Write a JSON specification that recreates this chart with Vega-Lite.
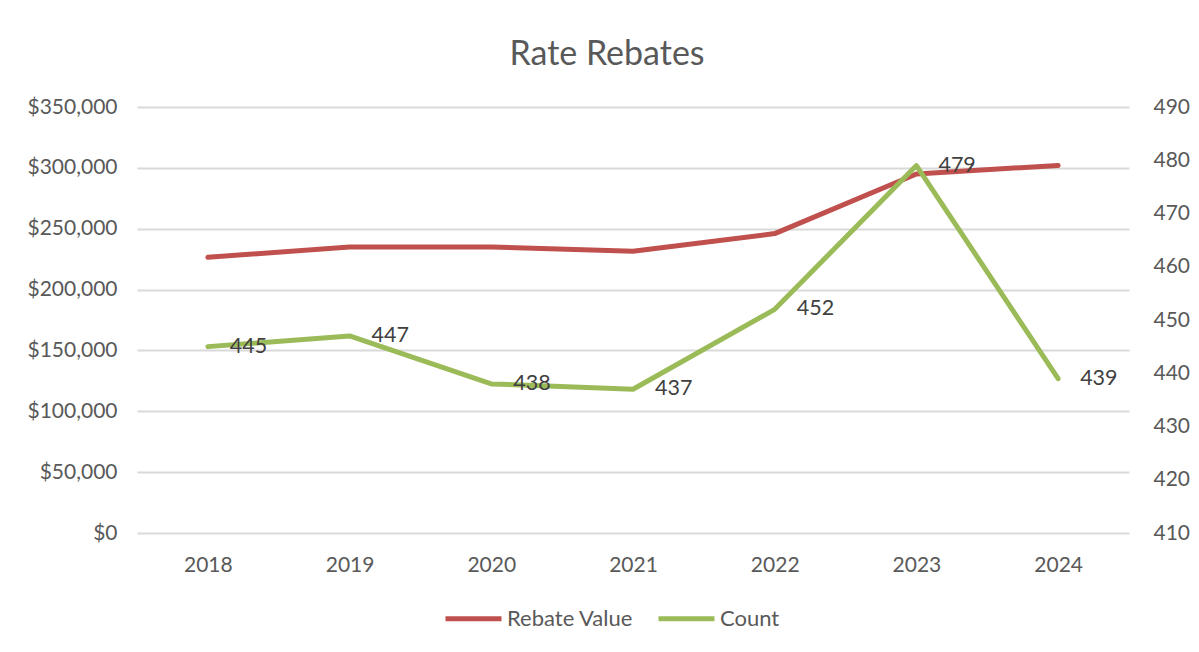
{
  "$schema": "https://vega.github.io/schema/vega-lite/v6.json",
  "autosize": {"type": "none"},
  "padding": {"left": 137, "top": 107, "right": 70, "bottom": 119},
  "width": 992,
  "height": 426,
  "background": "white",
  "config": {
    "font": "Lato",
    "view": {"stroke": null},
    "axis": {"labelFont": "Lato", "labelFontSize": 21, "labelColor": "#595959", "ticks": false, "domain": false, "grid": false}
  },
  "title": {"text": "Rate Rebates", "font": "Lato", "fontSize": 34, "fontWeight": "normal", "color": "#595959", "anchor": "middle", "dx": -26, "offset": 24},
  "data": {
    "values": [
      {"year": "2018", "rebate": 226500, "count": 445},
      {"year": "2019", "rebate": 235000, "count": 447},
      {"year": "2020", "rebate": 235000, "count": 438},
      {"year": "2021", "rebate": 231500, "count": 437},
      {"year": "2022", "rebate": 246000, "count": 452},
      {"year": "2023", "rebate": 295000, "count": 479},
      {"year": "2024", "rebate": 302000, "count": 439}
    ]
  },
  "encoding": {
    "x": {"field": "year", "type": "ordinal", "scale": {"type": "point", "padding": 0.5}, "axis": {"title": null, "labelAngle": 0, "labelPadding": 21}}
  },
  "layer": [
    {
      "mark": {"type": "line", "strokeWidth": 5, "strokeCap": "round", "strokeJoin": "round"},
      "encoding": {
        "y": {"field": "rebate", "type": "quantitative", "scale": {"domain": [0, 350000], "nice": false, "zero": true}, "axis": {"title": null, "orient": "left", "values": [0, 50000, 100000, 150000, 200000, 250000, 300000, 350000], "format": "$,.0f", "labelPadding": 20, "grid": true, "gridColor": "#D9D9D9", "gridWidth": 2}},
        "color": {"datum": "Rebate Value", "type": "nominal", "scale": {"domain": ["Rebate Value", "Count"], "range": ["#C0504D", "#9BBB59"]}, "legend": {"title": null, "orient": "none", "legendX": 306, "legendY": 481, "direction": "horizontal", "symbolType": "stroke", "symbolSize": 3136, "symbolStrokeWidth": 5, "labelFont": "Lato", "labelFontSize": 22, "labelColor": "#595959", "labelOffset": 3, "columnPadding": 14}}
      }
    },
    {
      "layer": [
        {
          "mark": {"type": "line", "strokeWidth": 5, "strokeCap": "round", "strokeJoin": "round"},
          "encoding": {
            "y": {"field": "count", "type": "quantitative", "scale": {"domain": [410, 490], "nice": false, "zero": false}, "axis": {"title": null, "orient": "right", "values": [410, 420, 430, 440, 450, 460, 470, 480, 490], "labelPadding": 24, "grid": false}},
            "color": {"datum": "Count", "type": "nominal"}
          }
        },
        {
          "mark": {"type": "text", "align": "left", "baseline": "middle", "dx": 22, "font": "Lato", "fontSize": 21.5, "color": "#404040"},
          "encoding": {
            "y": {"field": "count", "type": "quantitative"},
            "text": {"field": "count", "type": "quantitative"}
          }
        }
      ]
    }
  ],
  "resolve": {"scale": {"y": "independent"}}
}
